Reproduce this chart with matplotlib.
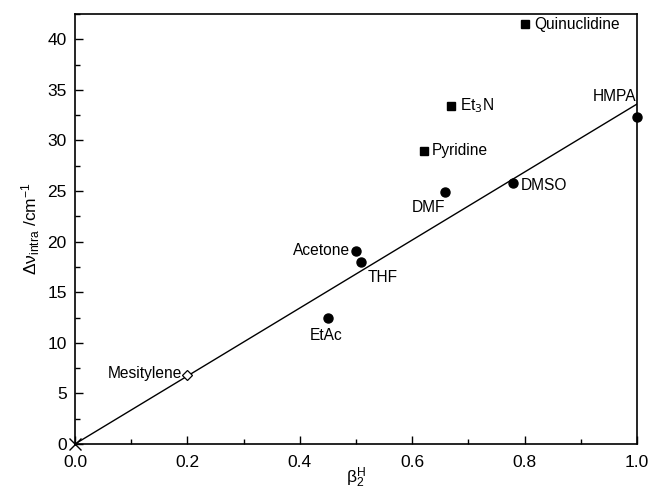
import matplotlib
matplotlib.use("Agg")
import matplotlib.pyplot as plt
from matplotlib.ticker import MultipleLocator

plt.rcParams['font.family'] = ['Liberation Sans', 'DejaVu Sans']

# circles
circ_names = ["HMPA", "DMSO", "DMF", "Acetone", "THF", "EtAc"]
circ_x = [1.0, 0.779, 0.659, 0.50, 0.509, 0.45]
circ_y = [32.3, 25.8, 24.9, 19.06, 18.0, 12.5]
# squares
sq_names = ["Quinuclidine", "Et$_3$N", "Pyridine"]
sq_x = [0.80, 0.669, 0.621]
sq_y = [41.5, 33.4, 29.0]
# diamond
dia_names = ["Mesitylene"]
dia_x = [0.20]
dia_y = [6.8]
# origin cross
cross_x = [0.0]
cross_y = [0.0]
# fit line
fit_x = [0.0, 1.0]
fit_y = [0.0, 33.6]

fig = plt.figure(figsize=(6.52, 4.91), dpi=100)
ax = fig.add_axes([0.115, 0.0957, 0.862, 0.8758])

ax.plot(fit_x, fit_y, color='black', lw=1.0)
ax.plot(circ_x, circ_y, 'o', color='black', ms=6.5, clip_on=False, zorder=3)
ax.plot(sq_x, sq_y, 's', color='black', ms=6, clip_on=False, zorder=3)
ax.plot(dia_x, dia_y, 'D', mfc='white', mec='black', ms=5, mew=0.9, clip_on=False, zorder=3)
ax.plot(cross_x, cross_y, 'x', color='black', ms=8, mew=1.0, clip_on=False, zorder=3)

fs = 11.2
offsets = {
    "Quinuclidine": (10, 0, 'left', 'center'),
    "Et$_3$N": (9, 0, 'left', 'center'),
    "Pyridine": (8, 0, 'left', 'center'),
    "HMPA": (-1, 21, 'right', 'center'),
    "DMF": (-17, -15, 'center', 'center'),
    "DMSO": (8, -3, 'left', 'center'),
    "Acetone": (-6, 1, 'right', 'center'),
    "THF": (7, -16, 'left', 'center'),
    "EtAc": (-2, -18, 'center', 'center'),
    "Mesitylene": (-5, 2, 'right', 'center'),
}
for names, xs, ys in [(circ_names, circ_x, circ_y), (sq_names, sq_x, sq_y), (dia_names, dia_x, dia_y)]:
    for n, x, y in zip(names, xs, ys):
        dx, dy, ha, va = offsets[n]
        ax.annotate(n, (x, y), xytext=(dx, dy), textcoords='offset pixels',
                    ha=ha, va=va, fontsize=fs)

ax.set_xlim(0, 1.0)
ax.set_ylim(0, 42.5)
ax.xaxis.set_major_locator(MultipleLocator(0.2))
ax.xaxis.set_minor_locator(MultipleLocator(0.1))
ax.yaxis.set_major_locator(MultipleLocator(5))
ax.yaxis.set_minor_locator(MultipleLocator(2.5))
ax.tick_params(which='both', direction='in', labelsize=12.5, width=1.0)
ax.tick_params(which='major', length=6)
ax.tick_params(which='minor', length=3.5)
ax.tick_params(axis='y', which='major', pad=6)
ax.tick_params(axis='x', which='major', pad=8)
ax.xaxis.set_major_formatter(matplotlib.ticker.FormatStrFormatter('%.1f'))
for s in ax.spines.values():
    s.set_linewidth(1.2)

ax.set_xlabel(r'$\mathregular{\beta_2^H}$', fontsize=12.5, labelpad=-3)
ax.set_ylabel(r'$\mathregular{\Delta\nu_{intra}}$ /cm$\mathregular{^{-1}}$', fontsize=12.5, labelpad=4)

fig.savefig('out.png', dpi=100)
